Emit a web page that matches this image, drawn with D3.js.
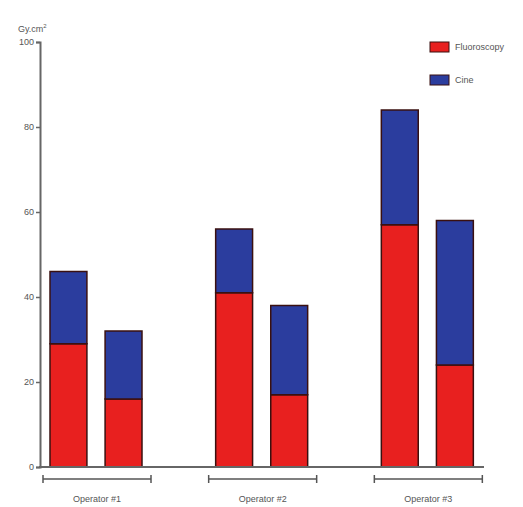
<!DOCTYPE html>
<html><head><meta charset="utf-8">
<script src="https://cdn.jsdelivr.net/npm/d3@7"></script>
<style>body{margin:0;background:#fff}svg{display:block}text{font-family:"Liberation Sans",Arial,sans-serif}</style>
</head><body><svg id="c" width="523" height="507"></svg>
<script>
const operators = ["Operator #1", "Operator #2", "Operator #3"];
const barIds = ["A", "B"];
const fluoroscopy = [[29, 16], [41, 17], [57, 24]];
const cine = [[17, 16], [15, 21], [27, 34]];
const yTicks = [0, 20, 40, 60, 80, 100];
const seriesNames = ["Fluoroscopy", "Cine"];
const colors = ["#e8201f", "#2b3d9e"];

const svg = d3.select("#c");
const y = d3.scaleLinear().domain([0, 100]).range([467, 42]);
const x0 = d3.scaleBand().domain(operators).range([13, 510]).padding(0);
const x1 = d3.scaleBand().domain(barIds).range([37, 129]).paddingInner(0.33).paddingOuter(0);

// bars
operators.forEach((op, i) => {
  barIds.forEach((b, j) => {
    const f = fluoroscopy[i][j], c = cine[i][j];
    const bx = x0(op) + x1(b);
    const segs = [[0, f, colors[0]], [f, f + c, colors[1]]];
    segs.forEach(([lo, hi, col]) => {
      svg.append("rect")
        .attr("x", bx).attr("y", y(hi))
        .attr("width", x1.bandwidth()).attr("height", y(lo) - y(hi))
        .attr("fill", col).attr("stroke", "#3a1010").attr("stroke-width", 1.5);
    });
  });
});

// y axis
const yAxis = d3.axisLeft(y).tickValues(yTicks).tickSize(4).tickPadding(2);
const gy = svg.append("g").attr("transform", "translate(40,0)").call(yAxis);
gy.select(".domain").attr("stroke", "#666").attr("stroke-width", 2);
gy.selectAll(".tick line").attr("stroke", "#666").attr("stroke-width", 1.5);
gy.selectAll(".tick text").attr("font-size", 9).attr("fill", "#555");

// x axis line
svg.append("line").attr("x1", 39).attr("x2", 484).attr("y1", y(0)).attr("y2", y(0))
  .attr("stroke", "#666").attr("stroke-width", 2);

// group brackets and labels
operators.forEach(op => {
  const gx = x0(op) + x1("A");
  const gx2 = x0(op) + x1("B") + x1.bandwidth();
  const l = gx - 7, r = gx2 + 9;
  const by = 479;
  const g = svg.append("g").attr("stroke", "#555").attr("stroke-width", 1.5);
  g.append("line").attr("x1", l).attr("x2", r).attr("y1", by).attr("y2", by);
  g.append("line").attr("x1", l).attr("x2", l).attr("y1", by - 4).attr("y2", by + 4);
  g.append("line").attr("x1", r).attr("x2", r).attr("y1", by - 4).attr("y2", by + 4);
  svg.append("text").attr("x", (l + r) / 2).attr("y", 502).attr("text-anchor", "middle")
    .attr("font-size", 9).attr("fill", "#555").text(op);
});

// y label
const yl = svg.append("text").attr("x", 18).attr("y", 32).attr("font-size", 9).attr("fill", "#555");
yl.append("tspan").text("Gy.cm");
yl.append("tspan").attr("dy", -4).attr("font-size", 6).text("2");

// legend
seriesNames.forEach((s, i) => {
  const ly = 47 + i * 33;
  svg.append("rect").attr("x", 430).attr("y", ly - 5).attr("width", 19).attr("height", 10)
    .attr("fill", colors[i]).attr("stroke", "#3a1010").attr("stroke-width", 1);
  svg.append("text").attr("x", 455).attr("y", ly + 3).attr("font-size", 9).attr("fill", "#555").text(s);
});
</script></body></html>
